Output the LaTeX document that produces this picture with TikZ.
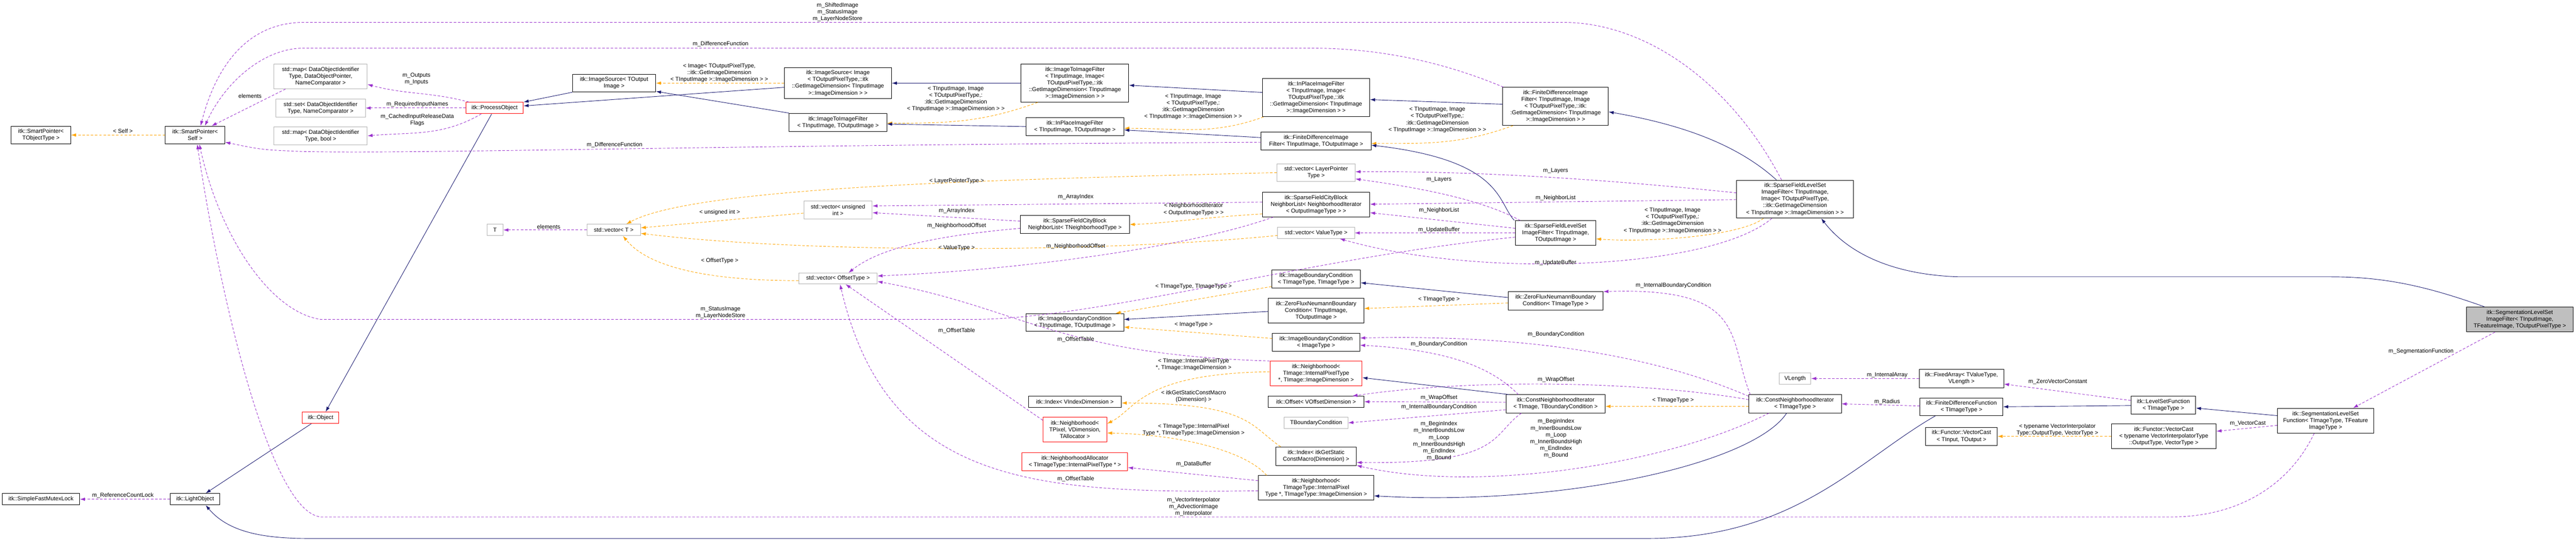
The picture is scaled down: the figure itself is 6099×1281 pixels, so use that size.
\documentclass[tikz,border=0pt]{standalone}
\usepackage{fontspec}
\setmainfont{Liberation Sans}
\usetikzlibrary{arrows.meta}
\definecolor{inhc}{HTML}{191970}
\definecolor{usec}{HTML}{9A32CD}
\definecolor{tplc}{HTML}{FFA500}
\begin{document}
\begin{tikzpicture}[x=1pt,y=-1pt,
  every node/.style={font=\fontsize{13.5}{16}\selectfont, inner sep=1pt, align=center},
  box/.style={draw=black, line width=1.2pt, fill=white},
  gbox/.style={draw=black!30, line width=1.2pt, fill=white},
  rbox/.style={draw=red, line width=1.2pt, fill=white},
  cbox/.style={draw=black, line width=1.2pt, fill=black!25},
  inh/.style={draw=inhc, line width=1.1pt, -{Latex[length=12pt,width=8pt]}},
  use/.style={draw=usec, line width=1.1pt, dash pattern=on 6pt off 4pt, -{Latex[length=12pt,width=8pt]}},
  tpl/.style={draw=tplc, line width=1.1pt, dash pattern=on 6pt off 4pt, -{Latex[length=12pt,width=8pt]}},
  lbl/.style={inner sep=0pt}]
\useasboundingbox (0,0) rectangle (6099,1281);
\newcommand{\bx}[7]{\node[#1, minimum width=#5, minimum height=#6] (#2) at (#3,#4) {#7};}
\bx{box}{spt}{97}{320}{141}{42}{itk::SmartPointer<\\TObjectType >}
\bx{box}{spself}{462}{320}{141}{42}{itk::SmartPointer<\\Self >}
\bx{gbox}{map1}{759}{181}{221}{59}{std::map< DataObjectIdentifier\\Type, DataObjectPointer,\\NameComparator >}
\bx{gbox}{set1}{759}{256}{212}{43}{std::set< DataObjectIdentifier\\Type, NameComparator >}
\bx{gbox}{map2}{759}{322}{221}{43}{std::map< DataObjectIdentifier\\Type, bool >}
\bx{rbox}{po}{1171}{256}{136}{27}{itk::ProcessObject}
\bx{rbox}{obj}{759}{990}{86}{27}{itk::Object}
\bx{box}{sfml}{97}{1183}{183}{27}{itk::SimpleFastMutexLock}
\bx{box}{lo}{462}{1183}{117}{27}{itk::LightObject}
\bx{box}{ist}{1454}{197}{197}{42}{itk::ImageSource< TOutput\\Image >}
\bx{box}{isi}{1984}{197}{254}{74}{itk::ImageSource< Image\\< TOutputPixelType,::itk\\::GetImageDimension< TInputImage\\>::ImageDimension > >}
\bx{box}{i2it}{1984}{290}{231}{43}{itk::ImageToImageFilter\\< TInputImage, TOutputImage >}
\bx{box}{i2ii}{2545}{197}{255}{90}{itk::ImageToImageFilter\\< TInputImage, Image<\\TOutputPixelType,::itk\\::GetImageDimension< TInputImage\\>::ImageDimension > >}
\bx{box}{ipt}{2545}{300}{232}{42}{itk::InPlaceImageFilter\\< TInputImage, TOutputImage >}
\bx{box}{ipi}{3116}{231}{254}{91}{itk::InPlaceImageFilter\\< TInputImage, Image<\\TOutputPixelType,::itk\\::GetImageDimension< TInputImage\\>::ImageDimension > >}
\bx{box}{fdifi}{3683}{252}{250}{90}{itk::FiniteDifferenceImage\\Filter< TInputImage, Image\\< TOutputPixelType,::itk:\\:GetImageDimension< TInputImage\\>::ImageDimension > >}
\bx{box}{fdift}{3116}{334}{260}{43}{itk::FiniteDifferenceImage\\Filter< TInputImage, TOutputImage >}
\bx{gbox}{veclay}{3116}{409}{185}{42}{std::vector< LayerPointer\\Type >}
\bx{box}{sfcbn}{3116}{485}{254}{58}{itk::SparseFieldCityBlock\\NeighborList< NeighborhoodIterator\\< OutputImageType > >}
\bx{gbox}{vecval}{3116}{552}{182}{26}{std::vector< ValueType >}
\bx{box}{sflst}{3683}{552}{190}{58}{itk::SparseFieldLevelSet\\ImageFilter< TInputImage,\\TOutputImage >}
\bx{box}{sflsi}{4250}{472}{277}{90}{itk::SparseFieldLevelSet\\ImageFilter< TInputImage,\\Image< TOutputPixelType,\\::itk::GetImageDimension\\< TInputImage >::ImageDimension > >}
\bx{gbox}{T}{1172}{545}{38}{27}{T}
\bx{gbox}{vect}{1453}{545}{127}{27}{std::vector< T >}
\bx{gbox}{vecuint}{1984}{498}{162}{43}{std::vector< unsigned\\int >}
\bx{gbox}{vecoff}{1984}{660}{186}{26}{std::vector< OffsetType >}
\bx{box}{sfcbt}{2545}{532}{258}{43}{itk::SparseFieldCityBlock\\NeighborList< TNeighborhoodType >}
\bx{cbox}{segf}{5966}{757}{252}{59}{itk::SegmentationLevelSet\\ImageFilter< TInputImage,\\TFeatureImage, TOutputPixelType >}
\bx{box}{lsf}{5122}{960}{153}{42}{itk::LevelSetFunction\\< TImageType >}
\bx{box}{segfun}{5506}{997}{228}{59}{itk::SegmentationLevelSet\\Function< TImageType, TFeature\\ImageType >}
\bx{box}{vc2}{5123}{1034}{248}{59}{itk::Functor::VectorCast\\< typename VectorInterpolatorType\\::OutputType, VectorType >}
\bx{gbox}{vlen}{4250}{897}{75}{27}{VLength}
\bx{box}{fa}{4644}{897}{200}{43}{itk::FixedArray< TValueType,\\VLength >}
\bx{box}{cnit}{4250}{957}{219}{43}{itk::ConstNeighborhoodIterator\\< TImageType >}
\bx{box}{fdf}{4644}{964}{196}{42}{itk::FiniteDifferenceFunction\\< TImageType >}
\bx{box}{vc1}{4644}{1034}{170}{43}{itk::Functor::VectorCast\\< TInput, TOutput >}
\bx{box}{ibctt}{3116}{661}{210}{43}{itk::ImageBoundaryCondition\\< TImageType, TImageType >}
\bx{box}{zfnt}{3683}{713}{225}{43}{itk::ZeroFluxNeumannBoundary\\Condition< TImageType >}
\bx{box}{zfnio}{3116}{736}{226}{59}{itk::ZeroFluxNeumannBoundary\\Condition< TInputImage,\\TOutputImage >}
\bx{box}{ibci}{3116}{811}{207}{43}{itk::ImageBoundaryCondition\\< ImageType >}
\bx{rbox}{nbhi}{3116}{885}{218}{58}{itk::Neighborhood<\\TImage::InternalPixelType\\*, TImage::ImageDimension >}
\bx{box}{offset}{3116}{952}{227}{26}{itk::Offset< VOffsetDimension >}
\bx{box}{cnitb}{3683}{957}{235}{43}{itk::ConstNeighborhoodIterator\\< TImage, TBoundaryCondition >}
\bx{gbox}{tbc}{3116}{1002}{151}{26}{TBoundaryCondition}
\bx{box}{indexd}{3116}{1081}{191}{44}{itk::Index< itkGetStatic\\ConstMacro(Dimension) >}
\bx{box}{nbhit}{3116}{1156}{273}{58}{itk::Neighborhood<\\TImageType::InternalPixel\\Type *, TImageType::ImageDimension >}
\bx{box}{ibcio}{2545}{764}{231}{42}{itk::ImageBoundaryCondition\\< TInputImage, TOutputImage >}
\bx{box}{indexv}{2545}{952}{220}{26}{itk::Index< VIndexDimension >}
\bx{rbox}{nbht}{2545}{1018}{151}{59}{itk::Neighborhood<\\TPixel, VDimension,\\TAllocator >}
\bx{rbox}{na}{2545}{1094}{250}{43}{itk::NeighborhoodAllocator\\< TImageType::InternalPixelType * >}

% edges
\draw[tpl] (spself.west) -- (spt.east);
\draw[use] ([shift={(28,0)}]map1.south west) -- ([shift={(39,0)}]spself.north);
\draw[use] ([shift={(8,0)}]po.north west) to[out=165,in=-15] ([shift={(0,19)}]map1.east);
\draw[use] (po.west) -- (set1.east);
\draw[use] ([shift={(37,0)}]po.south west) to[out=-150,in=5] (map2.east);
\draw[inh] ([shift={(-7,0)}]po.south) -- ([shift={(12,0)}]obj.north);
\draw[inh] ([shift={(-22,0)}]obj.south) -- ([shift={(25,0)}]lo.north);
\draw[use] (lo.west) -- (sfml.east);
\draw[inh] (ist.south west) -- (po.north east);
\draw[inh] ([shift={(0,10)}]isi.west) -- ([shift={(0,-5)}]po.east);
\draw[tpl] (isi.west) -- (ist.east);
\draw[inh] (i2it.north west) -- ([shift={(0,-2)}]ist.south east);
\draw[inh] (i2ii.west) -- (isi.east);
\draw[tpl] ([shift={(40,0)}]i2ii.south west) to[out=200,in=0] ([shift={(0,2)}]i2it.east);
\draw[inh] (ipt.west) -- ([shift={(0,4)}]i2it.east);
\draw[inh] ([shift={(0,-12)}]ipi.west) -- ([shift={(0,5)}]i2ii.east);
\draw[tpl] ([shift={(3,0)}]ipi.south west) to[out=200,in=0] ([shift={(0,4)}]ipt.east);
\draw[inh] ([shift={(0,-5)}]fdifi.west) -- ([shift={(0,5)}]ipi.east);
\draw[tpl] ([shift={(25,0)}]fdifi.south west) to[out=200,in=0] ([shift={(0,6)}]fdift.east);
\draw[inh] ([shift={(0,-8)}]fdift.west) -- ([shift={(0,8)}]ipt.east);
\draw[inh] ([shift={(-2,0)}]sflst.north west) .. controls (3545,480) and (3560,380) .. ([shift={(0,10)}]fdift.east);
\draw[inh] ([shift={(-44,0)}]sflsi.north) .. controls (4100,330) and (3950,290) .. ([shift={(0,13)}]fdifi.east);
\draw[tpl] ([shift={(-75,0)}]sflsi.south) .. controls (4120,560) and (3900,575) .. ([shift={(0,14)}]sflst.east);
\draw[inh] ([shift={(-84,0)}]segf.north) .. controls (5750,680) and (5650,656) .. (5519,656) -- (4638,656) .. controls (4450,650) and (4360,580) .. ([shift={(62,0)}]sflsi.south);
\draw[use] ([shift={(-59,0)}]segf.south) -- ([shift={(65,0)}]segfun.north);
\draw[inh] ([shift={(0,-12)}]segfun.west) -- ([shift={(0,7)}]lsf.east);
\draw[use] ([shift={(0,11)}]segfun.west) -- ([shift={(0,-12)}]vc2.east);
\draw[use] ([shift={(-27,0)}]segfun.south) .. controls (5420,1150) and (5300,1225) .. (5140,1225) -- (760,1225) .. controls (640,1215) and (520,700) .. ([shift={(5,0)}]spself.south);
\draw[tpl] (vc2.west) -- (vc1.east);
\draw[inh] ([shift={(0,1)}]lsf.west) -- (fdf.east);
\draw[use] ([shift={(0,-11)}]lsf.west) -- ([shift={(0,13)}]fa.east);
\draw[use] (fa.west) -- (vlen.east);
\draw[use] ([shift={(0,-2)}]fdf.west) -- (cnit.east);
\draw[inh] ([shift={(-62,0)}]fdf.south) .. controls (4400,1090) and (4250,1276) .. (3900,1276) -- (730,1276) .. controls (620,1276) and (540,1260) .. ([shift={(25,0)}]lo.south);
\draw[tpl] ([shift={(0,6)}]cnit.west) -- ([shift={(0,6)}]cnitb.east);
\draw[inh] ([shift={(-20,0)}]cnit.south) .. controls (4150,1100) and (3700,1200) .. ([shift={(0,19)}]nbhit.east);
\draw[use] ([shift={(0,4)}]cnit.north west) .. controls (3980,870) and (3700,790) .. ([shift={(0,-10)}]ibci.east);
\draw[use] ([shift={(0,-10)}]cnit.west) .. controls (3900,905) and (3500,895) .. ([shift={(86,0)}]offset.north);
\draw[use] ([shift={(48,0)}]cnit.south west) .. controls (3950,1100) and (3500,1170) .. ([shift={(0,22)}]indexd.east);
\draw[use] ([shift={(4,0)}]cnit.north west) .. controls (4090,800) and (4140,680) .. ([shift={(0,-22)}]zfnt.east);
\draw[inh] ([shift={(8,0)}]cnitb.north west) -- ([shift={(0,10)}]nbhi.east);
\draw[use] ([shift={(30,0)}]cnitb.north west) .. controls (3540,880) and (3450,830) .. ([shift={(0,7)}]ibci.east);
\draw[use] ([shift={(0,-4)}]cnitb.west) -- (offset.east);
\draw[use] ([shift={(0,14)}]cnitb.west) -- (tbc.east);
\draw[use] ([shift={(37,0)}]cnitb.south west) .. controls (3530,1030) and (3560,1100) .. ([shift={(0,15)}]indexd.east);
\draw[inh] ([shift={(0,-8)}]zfnt.west) -- ([shift={(0,9)}]ibctt.east);
\draw[tpl] ([shift={(0,5)}]zfnt.west) -- ([shift={(0,-5)}]zfnio.east);
\draw[inh] ([shift={(0,2)}]zfnio.west) -- ([shift={(0,-7)}]ibcio.east);
\draw[tpl] ([shift={(0,18)}]ibctt.west) -- ([shift={(-20,0)}]ibcio.north east);
\draw[tpl] ([shift={(0,-9)}]ibci.west) -- ([shift={(0,11)}]ibcio.east);
\draw[tpl] ([shift={(0,-4)}]nbhi.west) .. controls (2700,885) and (2690,970) .. ([shift={(0,-14)}]nbht.east);
\draw[use] (nbhi.north west) .. controls (2500,840) and (2420,730) .. ([shift={(0,7)}]vecoff.east);
\draw[use] ([shift={(0,8)}]nbht.north west) -- ([shift={(18,0)}]vecoff.south);
\draw[tpl] ([shift={(12,0)}]indexd.north west) .. controls (2960,1010) and (2960,955) .. ([shift={(0,3)}]indexv.east);
\draw[tpl] ([shift={(20,0)}]nbhit.north west) .. controls (2950,1070) and (2800,1030) .. ([shift={(0,8)}]nbht.east);
\draw[use] ([shift={(0,-17)}]nbhit.west) -- ([shift={(0,14)}]na.east);
\draw[use] ([shift={(0,7)}]nbhit.west) .. controls (2450,1170) and (2100,1150) .. ([shift={(5,0)}]vecoff.south);
\draw[tpl] ([shift={(0,5)}]vecoff.west) .. controls (1700,665) and (1540,640) .. ([shift={(22,0)}]vect.south);
\draw[tpl] ([shift={(0,7)}]vecuint.west) -- ([shift={(0,-5)}]vect.east);
\draw[use] (vect.west) -- (T.east);
\draw[tpl] (veclay.west) .. controls (2400,425) and (1650,440) .. ([shift={(30,0)}]vect.north);
\draw[tpl] ([shift={(0,6)}]vecval.west) .. controls (2600,600) and (1900,600) .. ([shift={(0,8)}]vect.east);
\draw[use] ([shift={(0,-6)}]sfcbn.west) -- ([shift={(0,-10)}]vecuint.east);
\draw[use] ([shift={(0,-8)}]sfcbt.west) -- ([shift={(0,6)}]vecuint.east);
\draw[use] ([shift={(0,9)}]sfcbt.west) .. controls (2200,560) and (2080,590) .. ([shift={(25,0)}]vecoff.north);
\draw[use] ([shift={(26,0)}]sfcbn.south west) .. controls (2800,590) and (2400,640) .. ([shift={(0,-6)}]vecoff.east);
\draw[tpl] ([shift={(0,22)}]sfcbn.west) .. controls (2850,515) and (2750,530) .. (sfcbt.east);
\draw[use] ([shift={(0,-15)}]sflsi.west) .. controls (3800,425) and (3500,405) .. ([shift={(0,-2)}]veclay.east);
\draw[use] ([shift={(12,0)}]sflst.north west) .. controls (3520,480) and (3400,450) .. ([shift={(0,15)}]veclay.east);
\draw[use] ([shift={(0,1)}]sflsi.west) -- ([shift={(0,-1)}]sfcbn.east);
\draw[use] ([shift={(0,-11)}]sflst.west) -- ([shift={(0,19)}]sfcbn.east);
\draw[use] (sflst.west) -- (vecval.east);
\draw[use] ([shift={(-55,0)}]sflsi.south) .. controls (4050,640) and (3500,660) .. ([shift={(56,0)}]vecval.south);
\draw[use] ([shift={(-32,0)}]sflsi.north) .. controls (4100,200) and (3900,53) .. (3700,53) -- (720,53) .. controls (560,53) and (500,200) .. ([shift={(13,0)}]spself.north);
\draw[use] ([shift={(0,10)}]sflst.west) .. controls (3100,610) and (2600,757) .. (2300,757) -- (760,757) .. controls (640,740) and (520,560) .. ([shift={(10,0)}]spself.south);
\draw[use] ([shift={(2,0)}]fdifi.north west) .. controls (3400,140) and (3250,114) .. (3100,114) -- (720,114) .. controls (620,114) and (530,200) .. ([shift={(23,0)}]spself.north);
\draw[use] ([shift={(0,3)}]fdift.west) .. controls (1600,345) and (1000,365) .. (716,359) .. controls (620,355) .. ([shift={(0,17)}]spself.east);

% labels
\node[lbl] (l1) at (291,311) {< Self >};
\node[lbl] (l2) at (592,227) {elements};
\node[lbl] (l3) at (986,187) {m\_Outputs\\m\_Inputs};
\node[lbl] (l4) at (988,247) {m\_RequiredInputNames};
\node[lbl] (l5) at (988,284) {m\_CachedInputReleaseData\\Flags};
\node[lbl] (l6) at (291,1174) {m\_ReferenceCountLock};
\node[lbl] (l7) at (1703,173) {< Image< TOutputPixelType,\\::itk::GetImageDimension\\< TInputImage >::ImageDimension > >};
\node[lbl] (l8) at (1706,105) {m\_DifferenceFunction};
\node[lbl] (l9) at (1983,29) {m\_ShiftedImage\\m\_StatusImage\\m\_LayerNodeStore};
\node[lbl] (l10) at (1455,344) {m\_DifferenceFunction};
\node[lbl] (l11) at (1299,537) {elements};
\node[lbl] (l12) at (1704,503) {< unsigned int >};
\node[lbl] (l13) at (1704,618) {< OffsetType >};
\node[lbl] (l14) at (2263,235) {< TInputImage, Image\\< TOutputPixelType,:\\:itk::GetImageDimension\\< TInputImage >::ImageDimension > >};
\node[lbl] (l15) at (2825,253) {< TInputImage, Image\\< TOutputPixelType,:\\:itk::GetImageDimension\\< TInputImage >::ImageDimension > >};
\node[lbl] (l16) at (3403,284) {< TInputImage, Image\\< TOutputPixelType,:\\:itk::GetImageDimension\\< TInputImage >::ImageDimension > >};
\node[lbl] (l17) at (3960,523) {< TInputImage, Image\\< TOutputPixelType,:\\:itk::GetImageDimension\\< TInputImage >::ImageDimension > >};
\node[lbl] (l18) at (2265,429) {< LayerPointerType >};
\node[lbl] (l19) at (2547,467) {m\_ArrayIndex};
\node[lbl] (l20) at (2265,500) {m\_ArrayIndex};
\node[lbl] (l21) at (2265,535) {m\_NeighborhoodOffset};
\node[lbl] (l22) at (2826,496) {< NeighborhoodIterator\\< OutputImageType > >};
\node[lbl] (l23) at (2265,587) {< ValueType >};
\node[lbl] (l24) at (2547,584) {m\_NeighborhoodOffset};
\node[lbl] (l25) at (3683,405) {m\_Layers};
\node[lbl] (l26) at (3407,425) {m\_Layers};
\node[lbl] (l27) at (3683,469) {m\_NeighborList};
\node[lbl] (l28) at (3407,499) {m\_NeighborList};
\node[lbl] (l29) at (3407,545) {m\_UpdateBuffer};
\node[lbl] (l30) at (3683,623) {m\_UpdateBuffer};
\node[lbl] (l31) at (1706,741) {m\_StatusImage\\m\_LayerNodeStore};
\node[lbl] (l32) at (5732,833) {m\_SegmentationFunction};
\node[lbl] (l33) at (5322,1003) {m\_VectorCast};
\node[lbl] (l34) at (4468,889) {m\_InternalArray};
\node[lbl] (l35) at (4872,905) {m\_ZeroVectorConstant};
\node[lbl] (l36) at (4468,952) {m\_Radius};
\node[lbl] (l37) at (4871,1019) {< typename VectorInterpolator\\Type::OutputType, VectorType >};
\node[lbl] (l38) at (3962,677) {m\_InternalBoundaryCondition};
\node[lbl] (l39) at (3407,710) {< TImageType >};
\node[lbl] (l40) at (3684,792) {m\_BoundaryCondition};
\node[lbl] (l41) at (3407,815) {m\_BoundaryCondition};
\node[lbl] (l42) at (3684,900) {m\_WrapOffset};
\node[lbl] (l43) at (3407,943) {m\_WrapOffset};
\node[lbl] (l44) at (3961,949) {< TImageType >};
\node[lbl] (l45) at (3407,965) {m\_InternalBoundaryCondition};
\node[lbl] (l46) at (3407,1045) {m\_BeginIndex\\m\_InnerBoundsLow\\m\_Loop\\m\_InnerBoundsHigh\\m\_EndIndex\\m\_Bound};
\node[lbl] (l47) at (3684,1039) {m\_BeginIndex\\m\_InnerBoundsLow\\m\_Loop\\m\_InnerBoundsHigh\\m\_EndIndex\\m\_Bound};
\node[lbl] (l48) at (2826,679) {< TImageType, TImageType >};
\node[lbl] (l49) at (2826,769) {< ImageType >};
\node[lbl] (l50) at (2265,784) {m\_OffsetTable};
\node[lbl] (l51) at (2547,804) {m\_OffsetTable};
\node[lbl] (l52) at (2826,864) {< TImage::InternalPixelType\\*, TImage::ImageDimension >};
\node[lbl] (l53) at (2826,939) {< itkGetStaticConstMacro\\(Dimension) >};
\node[lbl] (l54) at (2826,1019) {< TImageType::InternalPixel\\Type *, TImageType::ImageDimension >};
\node[lbl] (l55) at (2826,1100) {m\_DataBuffer};
\node[lbl] (l56) at (2547,1135) {m\_OffsetTable};
\node[lbl] (l57) at (2826,1201) {m\_VectorInterpolator\\m\_AdvectionImage\\m\_Interpolator};
\end{tikzpicture}
\end{document}
